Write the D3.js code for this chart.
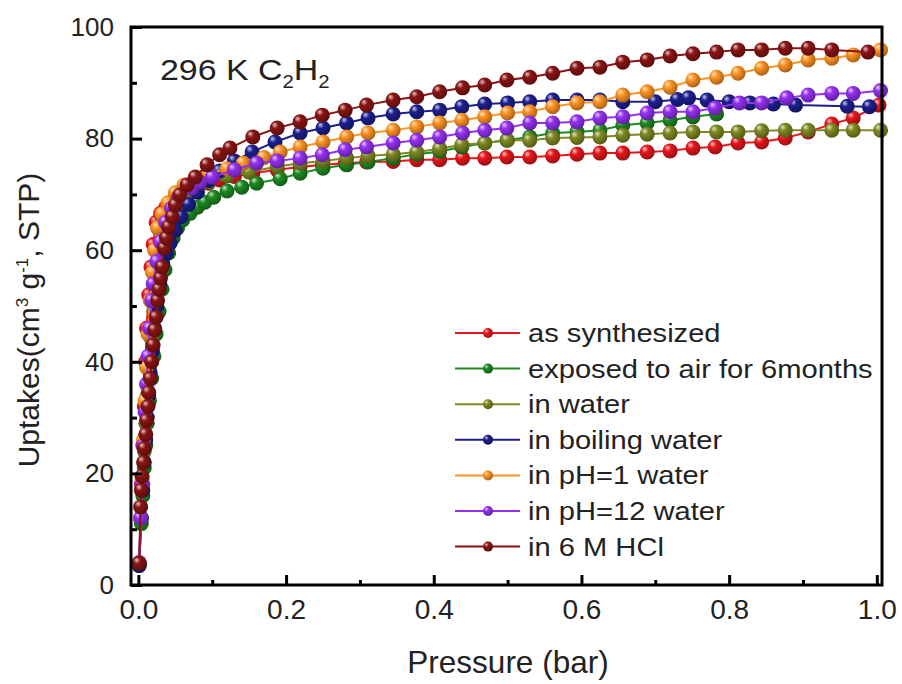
<!DOCTYPE html>
<html>
<head>
<meta charset="utf-8">
<script src="https://cdn.jsdelivr.net/npm/d3@7"></script>
<style>
  body { margin: 0; background: #fff; }
  text { font-family: "Liberation Sans", Arial, sans-serif; fill: #222; }
</style>
</head>
<body>
<div id="chart"></div>
<script>
////////////////////////////////////////////////////////////////////////
// Data: C2H2 uptake at 296 K, [pressure (bar), uptake (cm3/g STP)]

let asSynth = [
  [0.001, 4], [0.003, 12], [0.004, 18], [0.006, 25], [0.008, 32], [0.010, 40],
  [0.011, 46], [0.014, 52], [0.017, 57], [0.020, 61], [0.024, 65], [0.030, 66.6],
  [0.037, 67.7], [0.045, 68.6], [0.055, 69.5], [0.066, 70.4], [0.080, 71.2],
  [0.095, 72.0], [0.110, 72.6], [0.130, 73.2], [0.155, 73.8], [0.188, 74.4],
  [0.219, 74.9], [0.249, 75.3], [0.280, 75.6], [0.309, 75.8], [0.345, 75.9],
  [0.377, 76.2], [0.408, 76.2], [0.439, 76.5], [0.469, 76.5], [0.499, 76.7],
  [0.530, 76.7], [0.561, 76.9], [0.594, 77.2], [0.625, 77.4], [0.656, 77.4],
  [0.689, 77.6], [0.720, 77.8], [0.751, 78.3], [0.781, 78.5], [0.812, 79.2],
  [0.844, 79.4], [0.876, 80.1], [0.907, 81.2], [0.939, 82.6], [0.968, 83.7],
  [1.003, 86.0]
];

let airExposed = [
  [0.001, 3.5], [0.004, 11], [0.006, 16], [0.008, 21], [0.010, 25], [0.012, 29],
  [0.015, 33], [0.018, 37], [0.021, 41], [0.024, 45], [0.028, 49], [0.032, 53],
  [0.036, 56.5], [0.041, 59.5], [0.047, 62.2], [0.053, 64.0], [0.060, 65.4],
  [0.070, 66.6], [0.080, 67.7], [0.090, 68.6], [0.102, 69.5], [0.120, 70.6],
  [0.140, 71.3], [0.160, 72.0], [0.192, 72.8], [0.219, 73.8], [0.250, 74.7],
  [0.282, 75.3], [0.311, 75.8], [0.345, 76.5], [0.377, 77.2], [0.408, 77.7],
  [0.438, 78.5], [0.469, 79.2], [0.499, 79.7], [0.530, 80.3], [0.561, 81.0],
  [0.594, 81.2], [0.625, 81.5], [0.656, 82.4], [0.689, 82.8], [0.720, 83.3],
  [0.751, 83.9], [0.783, 84.4]
];

let inWater = [
  [0.001, 3.5], [0.004, 12], [0.006, 18], [0.008, 24], [0.010, 29], [0.012, 34],
  [0.015, 39], [0.018, 44], [0.021, 49], [0.025, 54], [0.030, 58], [0.036, 61.5],
  [0.043, 64.5], [0.052, 67.0], [0.063, 69.0], [0.077, 70.8], [0.095, 72.2],
  [0.120, 73.3], [0.150, 74.0], [0.188, 75.0], [0.219, 75.6], [0.250, 76.0],
  [0.282, 76.5], [0.311, 76.9], [0.345, 77.2], [0.377, 77.6], [0.408, 78.2],
  [0.438, 78.9], [0.469, 79.2], [0.500, 79.7], [0.530, 79.7], [0.561, 80.1],
  [0.594, 80.2], [0.625, 80.3], [0.656, 80.6], [0.689, 80.8], [0.720, 81.0],
  [0.751, 81.2], [0.783, 81.2], [0.812, 81.2], [0.844, 81.4], [0.876, 81.5],
  [0.907, 81.5], [0.939, 81.5], [0.968, 81.5], [1.005, 81.5]
];

let boilingWater = [
  [0.001, 3.5], [0.004, 12], [0.006, 17], [0.008, 22], [0.010, 26], [0.012, 30],
  [0.014, 34], [0.016, 38], [0.019, 42], [0.022, 46], [0.025, 50], [0.029, 54],
  [0.033, 57.7], [0.038, 59.5], [0.043, 61.3], [0.050, 63.6], [0.058, 66.0],
  [0.068, 68.2], [0.080, 70.4], [0.095, 72.5], [0.110, 74.2], [0.130, 76.0],
  [0.154, 77.6], [0.185, 79.4], [0.219, 81.0], [0.250, 81.9], [0.282, 82.8],
  [0.311, 83.7], [0.345, 84.4], [0.377, 84.8], [0.408, 85.1], [0.438, 85.7],
  [0.469, 86.2], [0.500, 86.4], [0.530, 86.6], [0.561, 86.9], [0.594, 86.9],
  [0.625, 86.9], [0.656, 86.6], [0.700, 86.6], [0.730, 87.0], [0.745, 87.3],
  [0.770, 86.9], [0.800, 86.6], [0.828, 86.4], [0.860, 86.2], [0.890, 86.0],
  [0.960, 85.8], [0.990, 85.7]
];

let ph1Water = [
  [0.001, 4], [0.003, 12], [0.005, 19], [0.007, 26], [0.009, 33], [0.011, 39],
  [0.013, 45], [0.016, 51], [0.019, 56], [0.022, 60], [0.026, 64], [0.032, 66.5],
  [0.040, 68.5], [0.050, 70.3], [0.062, 71.7], [0.077, 72.8], [0.095, 73.6],
  [0.120, 74.6], [0.142, 75.6], [0.170, 76.6], [0.192, 77.6], [0.219, 78.5],
  [0.250, 79.4], [0.282, 80.3], [0.311, 81.0], [0.345, 81.5], [0.377, 82.1],
  [0.408, 82.8], [0.438, 83.3], [0.469, 83.9], [0.500, 84.6], [0.530, 84.8],
  [0.561, 85.7], [0.594, 86.4], [0.625, 86.6], [0.656, 87.8], [0.689, 88.4],
  [0.720, 89.2], [0.751, 90.5], [0.783, 91.0], [0.812, 91.7], [0.844, 92.6],
  [0.876, 93.2], [0.907, 94.1], [0.939, 94.4], [0.968, 95.0], [1.005, 95.9]
];

let ph12Water = [
  [0.001, 4], [0.003, 12], [0.005, 18], [0.007, 25], [0.009, 31], [0.011, 36],
  [0.013, 41], [0.015, 46], [0.018, 51], [0.020, 54], [0.025, 58], [0.030, 61.5],
  [0.037, 65.0], [0.045, 67.5], [0.054, 69.4], [0.072, 71.1], [0.083, 72.2],
  [0.100, 73.1], [0.130, 74.4], [0.160, 75.6], [0.188, 76.0], [0.219, 76.5],
  [0.249, 77.1], [0.280, 78.0], [0.309, 78.5], [0.345, 79.2], [0.377, 79.7],
  [0.408, 80.3], [0.439, 81.0], [0.469, 81.5], [0.499, 81.9], [0.530, 82.8],
  [0.561, 82.8], [0.594, 83.0], [0.625, 83.7], [0.656, 83.9], [0.689, 84.6],
  [0.720, 84.8], [0.751, 84.8], [0.781, 85.5], [0.814, 86.4], [0.844, 86.4],
  [0.878, 87.3], [0.907, 87.8], [0.939, 88.1], [0.968, 88.1], [1.005, 88.6]
];

let hcl6M = [
  [0.001, 3.9], [0.003, 14], [0.004, 17], [0.005, 19.5], [0.007, 22], [0.008, 24.5],
  [0.010, 27], [0.011, 29.5], [0.013, 32], [0.014, 34.5], [0.016, 37], [0.018, 40],
  [0.020, 43], [0.022, 45.7], [0.024, 48], [0.026, 51], [0.028, 53], [0.030, 55],
  [0.032, 57], [0.035, 60.4], [0.038, 62.2], [0.041, 64.2], [0.046, 66.0],
  [0.050, 68.1], [0.056, 69.9], [0.066, 71.7], [0.077, 73.1], [0.093, 75.3],
  [0.110, 77.1], [0.124, 78.3], [0.155, 80.3], [0.188, 81.9], [0.219, 83.0],
  [0.249, 84.2], [0.280, 85.1], [0.309, 86.0], [0.345, 86.9], [0.377, 87.5],
  [0.408, 88.4], [0.439, 89.1], [0.469, 89.6], [0.499, 90.5], [0.530, 91.0],
  [0.561, 91.7], [0.594, 92.6], [0.625, 92.8], [0.656, 93.7], [0.689, 94.1],
  [0.720, 94.8], [0.751, 95.2], [0.783, 95.5], [0.812, 95.9], [0.844, 95.9],
  [0.876, 96.2], [0.907, 96.2], [0.939, 95.9], [0.988, 95.5]
];

let seriesNames = [
  "as synthesized", "exposed to air for 6months", "in water", "in boiling water",
  "in pH=1 water", "in pH=12 water", "in 6 M HCl"
];
let seriesData = [asSynth, airExposed, inWater, boilingWater, ph1Water, ph12Water, hcl6M];
let seriesColors = ["#e8161b", "#1e8a22", "#7f8a22", "#1c1f8e", "#ff9422", "#9530f2", "#8a1414"];

let xMajor = [0, 0.2, 0.4, 0.6, 0.8, 1.0];
let xMinor = [0.1, 0.3, 0.5, 0.7, 0.9];
let yMajor = [0, 20, 40, 60, 80, 100];
let yMinor = [10, 30, 50, 70, 90];

////////////////////////////////////////////////////////////////////////
// Layout

let width = 902, height = 684;
let plotL = 131, plotR = 882, plotT = 27, plotB = 585;

let svg = d3.select("#chart").append("svg")
  .attr("width", width)
  .attr("height", height);

let xScale = d3.scaleLinear().domain([-0.01, 1.007]).range([plotL, plotR]);
let yScale = d3.scaleLinear().domain([0, 100]).range([plotB, plotT]);

// shiny ball gradients, one per series
let defs = svg.append("defs");
seriesColors.forEach((c, i) => {
  let g = defs.append("radialGradient")
    .attr("id", "ball" + i)
    .attr("cx", "40%").attr("cy", "38%").attr("r", "65%")
    .attr("fx", "32%").attr("fy", "28%");
  g.append("stop").attr("offset", "0%").attr("stop-color", d3.interpolateRgb(c, "#fff")(0.75));
  g.append("stop").attr("offset", "35%").attr("stop-color", c);
  g.append("stop").attr("offset", "100%").attr("stop-color", d3.color(c).darker(1.2));
});

////////////////////////////////////////////////////////////////////////
// Series: lines then balls

let line = d3.line().x(d => xScale(d[0])).y(d => yScale(d[1]));

seriesData.forEach((data, i) => {
  let g = svg.append("g").attr("class", "series");
  g.append("path")
    .datum(data)
    .attr("d", line)
    .attr("fill", "none")
    .attr("stroke", seriesColors[i])
    .attr("stroke-width", 2);
  g.selectAll("circle")
    .data(data)
    .enter()
    .append("circle")
    .attr("cx", d => xScale(d[0]))
    .attr("cy", d => yScale(d[1]))
    .attr("r", 7.5)
    .attr("fill", "url(#ball" + i + ")");
});

////////////////////////////////////////////////////////////////////////
// Axes with inward ticks

let xAxis = svg.append("g")
  .attr("transform", `translate(0, ${plotB})`)
  .call(d3.axisBottom(xScale).tickValues(xMajor).tickFormat(d3.format(".1f"))
    .tickSizeInner(-10).tickSizeOuter(0).tickPadding(14));
svg.append("g")
  .attr("transform", `translate(0, ${plotB})`)
  .call(d3.axisBottom(xScale).tickValues(xMinor).tickFormat("")
    .tickSizeInner(-5).tickSizeOuter(0));

let yAxis = svg.append("g")
  .attr("transform", `translate(${plotL}, 0)`)
  .call(d3.axisLeft(yScale).tickValues(yMajor)
    .tickSizeInner(-11).tickSizeOuter(0).tickPadding(17));
svg.append("g")
  .attr("transform", `translate(${plotL}, 0)`)
  .call(d3.axisLeft(yScale).tickValues(yMinor).tickFormat("")
    .tickSizeInner(-6).tickSizeOuter(0));

svg.selectAll(".tick line").attr("stroke", "#000").attr("stroke-width", 3);
svg.selectAll(".domain").remove();
xAxis.selectAll("text").style("font-size", "28px").attr("fill", "#333");
yAxis.selectAll("text").style("font-size", "26px").attr("fill", "#333");

// frame
svg.append("rect")
  .attr("x", plotL).attr("y", plotT)
  .attr("width", plotR - plotL).attr("height", plotB - plotT)
  .attr("fill", "none")
  .attr("stroke", "#000")
  .attr("stroke-width", 3);

// axis titles
svg.append("text")
  .attr("x", 508)
  .attr("y", 673)
  .attr("text-anchor", "middle")
  .style("font-size", "31.5px")
  .text("Pressure (bar)");

let yt = svg.append("text")
  .attr("transform", "translate(39, 320) rotate(-90)")
  .attr("text-anchor", "middle")
  .style("font-size", "30px");
yt.append("tspan").text("Uptakes(cm");
yt.append("tspan").attr("dy", -11).style("font-size", "17px").text("3");
yt.append("tspan").attr("dy", 11).text(" g");
yt.append("tspan").attr("dy", -11).style("font-size", "17px").text("-1");
yt.append("tspan").attr("dy", 11).text(", STP)");

// annotation
let ann = svg.append("text")
  .attr("transform", "translate(160, 80) scale(1.13, 1)")
  .style("font-size", "30px");
ann.append("tspan").text("296 K C");
ann.append("tspan").attr("dy", 8).style("font-size", "18px").text("2");
ann.append("tspan").attr("dy", -8).text("H");
ann.append("tspan").attr("dy", 8).style("font-size", "18px").text("2");

////////////////////////////////////////////////////////////////////////
// Legend

let legend = svg.append("g").attr("class", "legend");
seriesNames.forEach((name, i) => {
  let y = 333 + i * 35.6;
  let c = seriesColors[i];
  legend.append("line")
    .attr("x1", 455).attr("x2", 520)
    .attr("y1", y).attr("y2", y)
    .attr("stroke", c).attr("stroke-width", 2);
  legend.append("circle")
    .attr("cx", 488).attr("cy", y).attr("r", 5)
    .attr("fill", "url(#ball" + i + ")");
  legend.append("text")
    .attr("transform", `translate(528, ${y + 9}) scale(1.12, 1)`)
    .style("font-size", "26px")
    .text(name);
});
</script>
</body>
</html>
